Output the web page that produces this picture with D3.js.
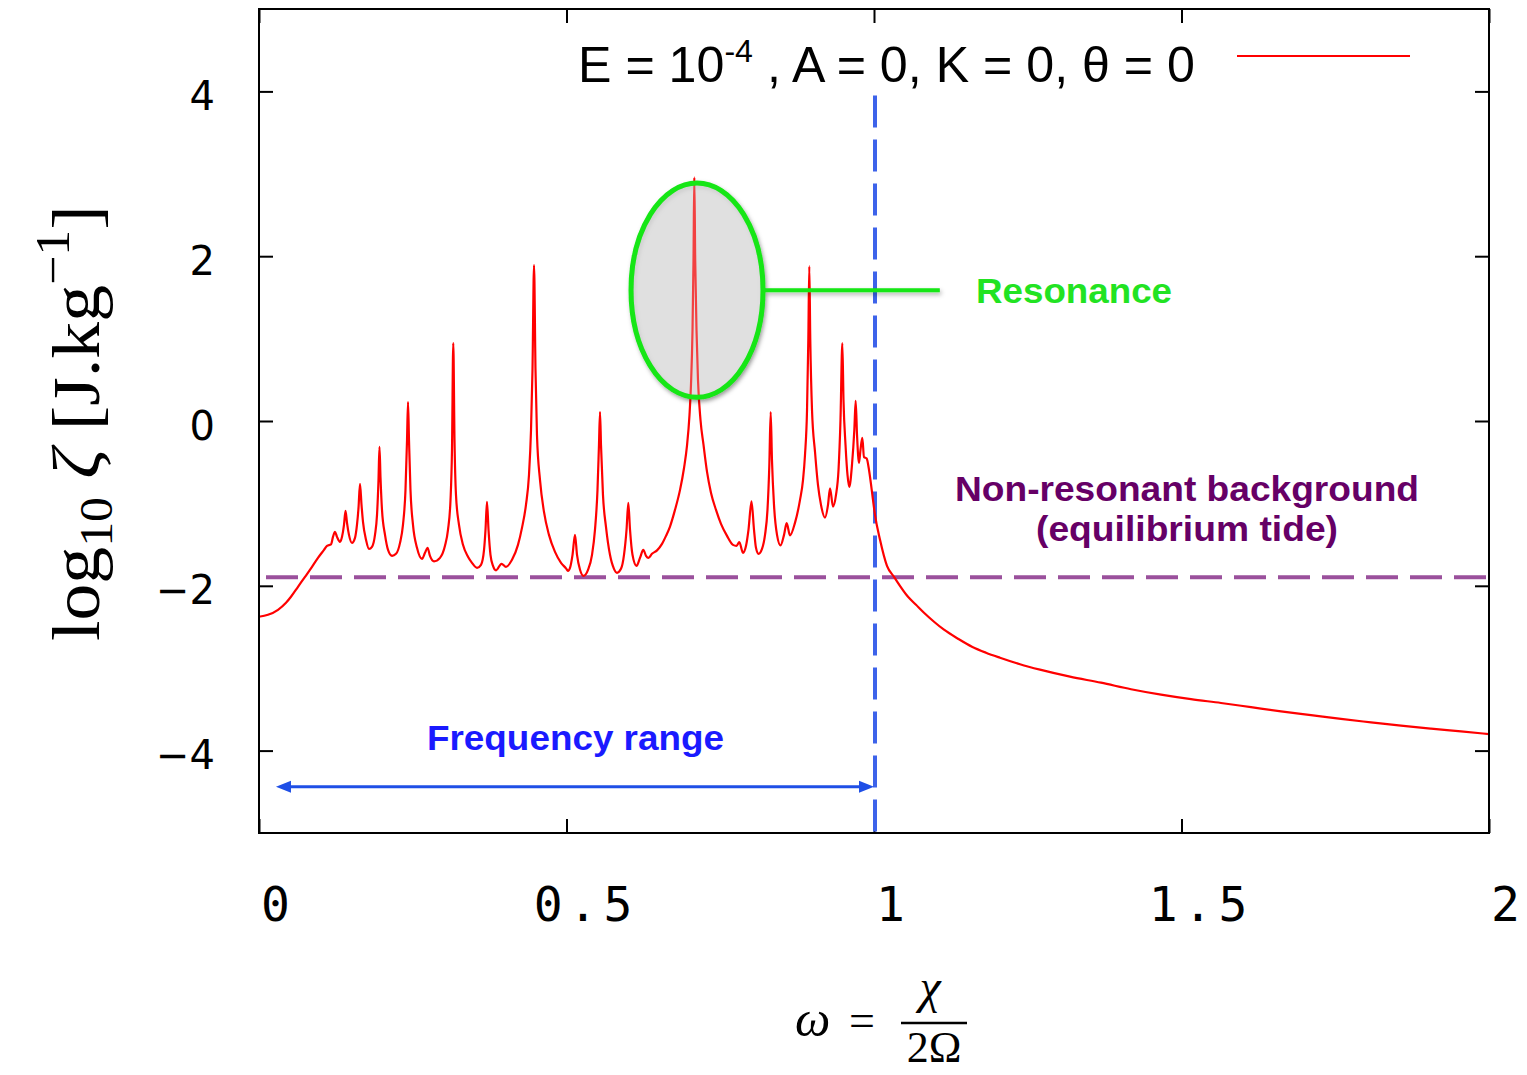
<!DOCTYPE html>
<html><head><meta charset="utf-8">
<script src="https://cdn.jsdelivr.net/npm/d3@7"></script>
<style>body{margin:0;background:#fff;} svg{display:block}</style>
</head><body><svg id="c" width="1527" height="1075"></svg>
<script>
// ---- data ----
const omega = [0,0.0146,0.0309,0.0439,0.0520,0.0634,0.0748,0.0862,0.0959,0.1057,
0.1106,0.1171,0.1203,0.1236,0.1268,0.1317,0.1350,0.1382,0.1407,0.1431,
0.1463,0.1512,0.1561,0.1593,0.1618,0.1642,0.1667,0.1691,0.1740,0.1789,
0.1837,0.1886,0.1919,0.1943,0.1959,0.1976,0.2000,0.2049,0.2098,0.2163,
0.2228,0.2293,0.2341,0.2382,0.2407,0.2423,0.2439,0.2463,0.2504,0.2569,
0.2650,0.2699,0.2740,0.2780,0.2846,0.2943,0.3024,0.3073,0.3114,0.3138,
0.3159,0.3179,0.3203,0.3252,0.3317,0.3398,0.3463,0.3545,0.3610,0.3659,
0.3683,0.3707,0.3732,0.3764,0.3805,0.3854,0.3943,0.4016,0.4114,0.4211,
0.4276,0.4341,0.4390,0.4423,0.4447,0.4472,0.4496,0.4520,0.4569,0.4634,
0.4715,0.4813,0.4911,0.4992,0.5024,0.5057,0.5098,0.5138,0.5171,0.5220,
0.5276,0.5350,0.5415,0.5463,0.5504,0.5528,0.5545,0.5561,0.5593,0.5642,
0.5707,0.5772,0.5821,0.5886,0.5935,0.5976,0.6005,0.6033,0.6073,0.6138,
0.6195,0.6249,0.6293,0.6333,0.6390,0.6472,0.6553,0.6618,0.6683,0.6764,
0.6846,0.6911,0.6959,0.7000,0.7024,0.7049,0.7065,0.7078,0.7093,0.7114,
0.7138,0.7179,0.7228,0.7285,0.7350,0.7431,0.7512,0.7610,0.7707,0.7764,
0.7810,0.7870,0.7919,0.7959,0.8008,0.8049,0.8081,0.8122,0.8179,0.8228,
0.8268,0.8298,0.8320,0.8341,0.8374,0.8423,0.8480,0.8537,0.8580,0.8634,
0.8715,0.8797,0.8846,0.8878,0.8911,0.8932,0.8948,0.8964,0.8992,0.9041,
0.9089,0.9138,0.9203,0.9252,0.9285,0.9333,0.9382,0.9423,0.9455,0.9485,
0.9504,0.9537,0.9569,0.9598,0.9642,0.9680,0.9702,0.9724,0.9756,0.9780,
0.9810,0.9837,0.9881,0.9919,0.9963,1.0016,1.0098,1.0211,1.0325,1.0553,
1.0683,1.0813,1.0976,1.1138,1.1366,1.1593,1.1821,1.2049,1.2374,1.2699,
1.3187,1.3691,1.4179,1.4667,1.5154,1.5642,1.6130,1.6618,1.7106,1.7593,
1.8081,1.8569,1.9057,1.9545,2.0];

const logZeta = [-2.376,-2.352,-2.291,-2.206,-2.133,-2.012,-1.891,-1.770,-1.661,-1.564,
-1.515,-1.497,-1.406,-1.345,-1.406,-1.467,-1.406,-1.261,-1.091,-1.236,
-1.382,-1.479,-1.418,-1.261,-1.055,-0.764,-1.018,-1.224,-1.442,-1.552,
-1.527,-1.382,-1.139,-0.715,-0.315,-0.691,-1.079,-1.382,-1.564,-1.636,
-1.612,-1.479,-1.261,-0.836,-0.230,0.230,-0.230,-0.836,-1.261,-1.539,
-1.673,-1.600,-1.539,-1.636,-1.703,-1.661,-1.515,-1.321,-0.958,-0.352,
0.945,-0.230,-0.897,-1.261,-1.503,-1.648,-1.721,-1.782,-1.745,-1.564,
-1.321,-0.982,-1.321,-1.624,-1.758,-1.812,-1.733,-1.770,-1.685,-1.503,
-1.297,-1.018,-0.655,-0.109,0.618,1.891,0.618,-0.170,-0.715,-1.103,
-1.382,-1.588,-1.721,-1.788,-1.818,-1.782,-1.624,-1.382,-1.624,-1.806,
-1.879,-1.806,-1.624,-1.321,-0.836,-0.291,0.109,-0.291,-0.897,-1.285,
-1.624,-1.794,-1.842,-1.794,-1.624,-1.321,-0.994,-1.321,-1.624,-1.758,
-1.661,-1.564,-1.636,-1.661,-1.612,-1.570,-1.491,-1.394,-1.281,-1.079,
-0.836,-0.570,-0.303,0.073,0.436,1.103,1.952,2.958,1.952,1.103,
0.497,0.012,-0.291,-0.618,-0.873,-1.079,-1.248,-1.394,-1.503,-1.515,
-1.470,-1.600,-1.515,-1.321,-0.976,-1.321,-1.539,-1.612,-1.552,-1.382,
-1.079,-0.533,0.109,-0.473,-1.018,-1.382,-1.509,-1.382,-1.240,-1.388,
-1.236,-0.958,-0.715,-0.412,0.133,0.982,1.879,0.982,0.133,-0.376,
-0.776,-1.018,-1.172,-1.018,-0.816,-1.039,-0.897,-0.594,0.012,0.945,
0.255,-0.291,-0.655,-0.800,-0.533,-0.109,0.246,-0.170,-0.509,-0.352,
-0.206,-0.436,-0.455,-0.594,-0.836,-1.139,-1.442,-1.758,-1.891,-2.133,
-2.230,-2.327,-2.436,-2.533,-2.642,-2.739,-2.812,-2.873,-2.952,-3.018,
-3.103,-3.176,-3.255,-3.321,-3.376,-3.422,-3.473,-3.524,-3.570,-3.616,
-3.657,-3.697,-3.733,-3.767,-3.800];

const xTicks = [0, 0.5, 1, 1.5, 2];
const xTickLabels = ["0", "0.5", "1", "1.5", "2"];
const yTicks = [-4, -2, 0, 2, 4];
const yTickLabels = ["\u22124", "\u22122", "0", "2", "4"];
const backgroundLevel = -1.895;       // equilibrium tide level
const frequencyLimit = 1;             // omega = 1 boundary
const frequencyRange = [0.0276, 1.0]; // arrow extent
const arrowLevel = -4.44;
const resonanceCenter = [0.7122, 1.588];
const resonanceRadii = [0.1073, 1.30];
const legendLabel = ["E = 10", "-4", " , A = 0, K = 0, \u03B8 = 0"];

// ---- chart ----
const svg = d3.select("#c");
const x = d3.scaleLinear().domain([0, 2]).range([259, 1489]);
const y = d3.scaleLinear().domain([-5, 5]).range([833, 9]);

const defs = svg.append("defs");
const f = defs.append("filter").attr("id","sh").attr("x","-20%").attr("y","-20%").attr("width","140%").attr("height","140%");
f.append("feDropShadow").attr("dx",1.5).attr("dy",2.5).attr("stdDeviation",2).attr("flood-color","#000").attr("flood-opacity",0.3);

// axes ticks
const gL = svg.append("g").attr("transform",`translate(${x(0)},0)`)
  .call(d3.axisLeft(y).tickValues(yTicks).tickSize(-14).tickPadding(44)
    .tickFormat(d => yTickLabels[yTicks.indexOf(d)]));
gL.select(".domain").remove();
gL.selectAll("line").attr("stroke","#000").attr("stroke-width",2);
gL.selectAll("text").attr("font-family","DejaVu Sans").attr("font-size",40).attr("fill","#000").attr("dy","0.45em");

const gR = svg.append("g").attr("transform",`translate(${x(2)},0)`)
  .call(d3.axisRight(y).tickValues(yTicks).tickSize(-14).tickFormat(""));
gR.select(".domain").remove();
gR.selectAll("line").attr("stroke","#000").attr("stroke-width",2);

const gB = svg.append("g").attr("transform",`translate(0,${y(-5)})`)
  .call(d3.axisBottom(x).tickValues(xTicks).tickSize(-14)
    .tickFormat(d => xTickLabels[xTicks.indexOf(d)]));
gB.select(".domain").remove();
gB.selectAll("line").attr("stroke","#000").attr("stroke-width",2);
gB.selectAll("text").attr("font-family","DejaVu Sans Mono").attr("font-size",48)
  .attr("letter-spacing","6px").attr("fill","#000").attr("y",88).attr("dy",0).attr("dx",19);

const gT = svg.append("g").attr("transform",`translate(0,${y(5)})`)
  .call(d3.axisTop(x).tickValues(xTicks).tickSize(-14).tickFormat(""));
gT.select(".domain").remove();
gT.selectAll("line").attr("stroke","#000").attr("stroke-width",2);

// background dashed line
svg.append("line").attr("x1",x(0)).attr("x2",x(2)).attr("y1",y(backgroundLevel)).attr("y2",y(backgroundLevel))
  .attr("stroke","#9a509c").attr("stroke-width",4).attr("stroke-dasharray","32 12").attr("stroke-dashoffset",37);

// frequency limit dashed line
svg.append("line").attr("x1",x(frequencyLimit)+1).attr("x2",x(frequencyLimit)+1).attr("y1",y(3.95)).attr("y2",y(-5))
  .attr("stroke","#3d63ea").attr("stroke-width",4).attr("stroke-dasharray","32 12");

// resonance ellipse (fill below the curve)
const ecx = x(resonanceCenter[0]), ecy = y(resonanceCenter[1]);
const erx = x(resonanceCenter[0]+resonanceRadii[0]) - ecx;
const ery = y(resonanceCenter[1]-resonanceRadii[1]) - ecy;
svg.append("ellipse").attr("cx",ecx).attr("cy",ecy).attr("rx",erx).attr("ry",ery)
  .attr("fill","#e6e6e6").attr("filter","url(#sh)");

// curve
const pts = d3.zip(omega, logZeta);
svg.append("path").datum(pts)
  .attr("d", d3.line().curve(d3.curveMonotoneX).x(d => x(d[0])).y(d => y(d[1])))
  .attr("fill","none").attr("stroke","#ff0000").attr("stroke-width",2.2).attr("stroke-linejoin","round");

// frame
svg.append("rect").attr("x",x(0)).attr("y",y(5)).attr("width",x(2)-x(0)).attr("height",y(-5)-y(5))
  .attr("fill","none").attr("stroke","#000").attr("stroke-width",2);

// ellipse outline and connector
const annG = svg.append("g").attr("filter","url(#sh)");
annG.append("line").attr("x1",ecx+erx).attr("x2",x(1.107)).attr("y1",ecy).attr("y2",ecy)
  .attr("stroke","#14e614").attr("stroke-width",4);
annG.append("ellipse").attr("cx",ecx).attr("cy",ecy).attr("rx",erx).attr("ry",ery)
  .attr("fill","#e6e6e6").attr("fill-opacity",0.25).attr("stroke","#14e614").attr("stroke-width",5);

// annotation texts
function label(txt, xx, yy, anchor, color, len){
  svg.append("text").attr("x",xx).attr("y",yy).attr("text-anchor",anchor)
    .attr("font-family","Liberation Sans, Arial, sans-serif").attr("font-weight","bold").attr("font-size",35)
    .attr("fill",color).attr("textLength",len).attr("lengthAdjust","spacingAndGlyphs").text(txt);
}
label("Resonance", 976, 303, "start", "#22e322", 196);
label("Non-resonant background", 1187, 501, "middle", "#660066", 464);
label("(equilibrium tide)", 1187, 541, "middle", "#660066", 302);
label("Frequency range", 575.5, 750, "middle", "#1a1aff", 297);

// arrow
const ay = y(arrowLevel), ax1 = x(frequencyRange[0]), ax2 = x(frequencyRange[1]);
svg.append("line").attr("x1",ax1+8).attr("x2",ax2-8).attr("y1",ay).attr("y2",ay)
  .attr("stroke","#1f4fe6").attr("stroke-width",3);
svg.append("path").attr("d",`M${ax1},${ay} L${ax1+15},${ay-6} L${ax1+15},${ay+6} Z M${ax2},${ay} L${ax2-15},${ay-6} L${ax2-15},${ay+6} Z`)
  .attr("fill","#1f4fe6");

// legend
const lg = svg.append("g").attr("transform","translate(578,82)");
const lt = lg.append("text").attr("font-family","Liberation Sans Narrow, Liberation Sans, Arial, sans-serif").attr("font-size",50).attr("fill","#000");
lt.append("tspan").text(legendLabel[0]);
lt.append("tspan").attr("font-size",32).attr("dy",-20).text(legendLabel[1]);
lt.append("tspan").attr("dy",20).text(legendLabel[2]);
const lw = lt.node().getComputedTextLength();
lt.attr("transform",`scale(${617/lw},1)`);
svg.append("line").attr("x1",1237).attr("x2",1410).attr("y1",56).attr("y2",56).attr("stroke","#ff0000").attr("stroke-width",2);

// y-axis label
const yl = svg.append("g").attr("transform","translate(99,641) rotate(-90)");
const yt = yl.append("text").attr("font-family","Liberation Serif, DejaVu Serif, serif").attr("font-size",68).attr("fill","#000");
yt.append("tspan").text("log");
yt.append("tspan").attr("font-size",46).attr("dy",13).text("10");
yt.append("tspan").attr("dy",-13).text(" ");
yt.append("tspan").attr("font-style","italic").text("\u03B6");
yt.append("tspan").text(" [J.kg");
yt.append("tspan").attr("font-size",48).attr("dy",-30).text("\u22121");
yt.append("tspan").attr("dy",30).text("]");
const yw = yt.node().getComputedTextLength();
yt.attr("transform",`scale(${436/yw},1)`);

// x-axis label
const xf = "Liberation Serif, DejaVu Serif, serif";
svg.append("text").attr("x",795).attr("y",1036).attr("font-family",xf).attr("font-style","italic").attr("font-size",50).text("\u03C9");
svg.append("text").attr("x",862).attr("y",1036).attr("text-anchor","middle").attr("font-family",xf).attr("font-size",46).text("=");
svg.append("text").attr("x",930).attr("y",1003).attr("text-anchor","middle").attr("font-family",xf).attr("font-style","italic").attr("font-size",48).text("\u03C7");
svg.append("line").attr("x1",901).attr("x2",967).attr("y1",1023).attr("y2",1023).attr("stroke","#000").attr("stroke-width",2.5);
svg.append("text").attr("x",934).attr("y",1062).attr("text-anchor","middle").attr("font-family",xf).attr("font-size",44).text("2\u03A9");
</script>
</body></html>
